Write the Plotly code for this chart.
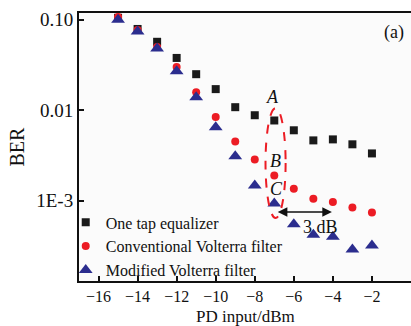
import plotly.graph_objects as go
import math

pd_input = [-15, -14, -13, -12, -11, -10, -9, -8, -7, -6, -5, -4, -3, -2]
ber_one_tap = [0.105, 0.079, 0.057, 0.0378, 0.025, 0.0171, 0.0108, 0.0088, 0.0077, 0.0060, 0.00464, 0.00476, 0.0042, 0.00333]
ber_conventional = [0.107, 0.077, 0.050, 0.030, 0.0158, 0.0084, 0.0045, 0.00286, 0.0019, 0.00136, 0.00105, 0.00097, 0.00084, 0.00074]
ber_modified = [0.10, 0.074, 0.048, 0.027, 0.0139, 0.0065, 0.0031, 0.00147, 0.00093, 0.00055, 0.00042, 0.00040, 0.00029, 0.00032]

x_ticks = [-16, -14, -12, -10, -8, -6, -4, -2, 0]
y_tickvals = [0.1, 0.01, 0.001]
y_ticktext = ["0.10", "0.01", "1E-3"]

FONT = "Liberation Serif, Times New Roman, serif"

fig = go.Figure()
fig.add_trace(go.Scatter(x=pd_input, y=ber_one_tap, mode="markers", name="One tap equalizer",
                         marker=dict(symbol="square", size=8, color="#1a1a1a")))
fig.add_trace(go.Scatter(x=pd_input, y=ber_conventional, mode="markers", name="Conventional Volterra filter",
                         marker=dict(symbol="circle", size=8, color="#ec1c24")))
fig.add_trace(go.Scatter(x=pd_input, y=ber_modified, mode="markers", name="Modified Volterra filter",
                         marker=dict(symbol="triangle-up", size=12, color="#2b2d8e")))

L = math.log10
# dashed ellipse around A, B, C (x in data units, y in plot-fraction units)
fig.add_shape(type="circle", xref="x", yref="paper", x0=-7.45, x1=-6.42, y0=0.235, y1=0.645,
              line=dict(color="#ec1c24", width=2, dash="dash"))

for txt, xv, yv in [("A", -7.07, 0.0140), ("B", -6.96, 0.00278), ("C", -6.91, 0.00136)]:
    fig.add_annotation(x=xv, y=L(yv), text="<i>" + txt + "</i>", showarrow=False,
                       font=dict(family=FONT, size=18, color="#111"),
                       xanchor="center", yanchor="middle")

# 3 dB double arrow
fig.add_annotation(x=-4.05, y=L(0.00075), ax=-6.9, ay=L(0.00075), xref="x", yref="y", axref="x", ayref="y",
                   text="", showarrow=True, arrowhead=2, startarrowhead=2, arrowside="end+start",
                   arrowsize=1.2, arrowwidth=1.6, arrowcolor="#111")
fig.add_annotation(x=-4.65, y=L(0.00051), text="3 dB", showarrow=False,
                   font=dict(family=FONT, size=18, color="#111"))
fig.add_annotation(xref="paper", yref="paper", x=0.985, y=0.975, text="(a)", showarrow=False,
                   xanchor="right", yanchor="top", font=dict(family=FONT, size=18, color="#111"))
# x-axis title
fig.add_annotation(xref="paper", yref="paper", x=0.5, y=-0.131, text="PD input/dBm", showarrow=False,
                   xanchor="center", yanchor="middle", font=dict(family=FONT, size=17, color="#111"))

fig.update_layout(
    width=411, height=326,
    margin=dict(l=79, r=0, t=13, b=45, autoexpand=False),
    paper_bgcolor="#ffffff", plot_bgcolor="#fbfbfb",
    font=dict(family=FONT, size=19, color="#111"),
    showlegend=True,
    legend=dict(x=-0.04, y=0.282, xanchor="left", yanchor="top", bgcolor="rgba(0,0,0,0)",
                font=dict(family=FONT, size=16, color="#111"), tracegroupgap=0, itemwidth=30),
)
fig.update_xaxes(range=[-17, 0], tickvals=x_ticks, ticks="inside", ticklen=5, tickwidth=1.5,
                 tickcolor="#111", showline=True, linecolor="#111", linewidth=2, mirror=True,
                 showgrid=False, zeroline=False, tickfont=dict(family=FONT, size=16), automargin=False)
fig.update_yaxes(type="log", range=[-3.887, -0.926], tickvals=y_tickvals, ticktext=y_ticktext,
                 ticks="inside", ticklen=5, tickwidth=1.5, tickcolor="#111", showline=True,
                 linecolor="#111", linewidth=2, mirror=True, showgrid=False, zeroline=False,
                 tickfont=dict(family=FONT, size=19), automargin=False,
                 title=dict(text="BER", font=dict(family=FONT, size=20), standoff=6))

fig.write_html("out.html")
